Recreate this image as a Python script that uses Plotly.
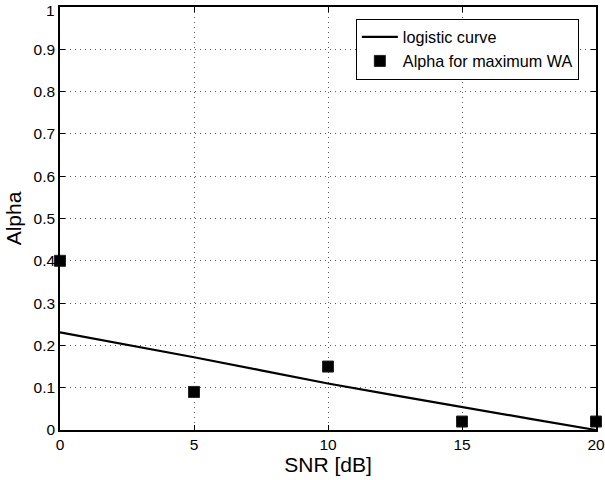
import plotly.graph_objects as go

# Data
curve_snr = [0, 2.5, 5, 7.5, 10, 12.5, 15, 17.5, 20]
curve_alpha = [0.231, 0.202, 0.172, 0.141, 0.110, 0.082, 0.054, 0.027, 0.0]

point_snr = [0, 5, 10, 15, 20]
point_alpha = [0.40, 0.09, 0.15, 0.02, 0.02]

x_ticks = [0, 5, 10, 15, 20]
y_ticks = [0, 0.1, 0.2, 0.3, 0.4, 0.5, 0.6, 0.7, 0.8, 0.9, 1]
y_tick_text = ["0", "0.1", "0.2", "0.3", "0.4", "0.5", "0.6", "0.7", "0.8", "0.9", "1"]

FONT = "Liberation Sans"
TICK_SIZE = 15.5

fig = go.Figure()
fig.add_trace(go.Scatter(
    x=curve_snr, y=curve_alpha, mode="lines", name="logistic curve",
    line=dict(color="black", width=2.2), cliponaxis=False,
))
fig.add_trace(go.Scatter(
    x=point_snr, y=point_alpha, mode="markers", name="Alpha for maximum WA",
    marker=dict(symbol="square", size=11, color="black",
                line=dict(color="#222", width=1)),
    cliponaxis=False,
))

axis_common = dict(
    showline=True, linecolor="black", linewidth=1.5, mirror="allticks",
    ticks="inside", ticklen=5, tickcolor="black", tickwidth=1,
    showgrid=True, gridcolor="#5a5a5a", gridwidth=1, griddash="1px,4px",
    zeroline=False, automargin=False, ticklabeloverflow="allow",
    tickfont=dict(family=FONT, size=TICK_SIZE, color="black"),
)

# The top y label ("1") sits right at the page edge; draw it as an annotation
# nudged slightly down (as in the reference) so that it stays fully visible.
y_tick_text_axis = [t if v != max(y_ticks) else "" for v, t in zip(y_ticks, y_tick_text)]

fig.update_xaxes(
    range=[0, 20], tickvals=x_ticks, ticktext=[str(v) for v in x_ticks],
    title=dict(text="SNR [dB]", font=dict(family=FONT, size=21, color="black"), standoff=2),
    **axis_common,
)
fig.update_yaxes(
    range=[0, 1], tickvals=y_ticks, ticktext=y_tick_text_axis,
    title=dict(text="Alpha", font=dict(family=FONT, size=21, color="black"), standoff=6),
    **axis_common,
)

fig.add_annotation(
    xref="paper", yref="y", x=0, y=max(y_ticks), text=y_tick_text[-1],
    showarrow=False, xanchor="right", yanchor="middle", xshift=-3, yshift=-3,
    font=dict(family=FONT, size=TICK_SIZE, color="black"),
)

fig.update_layout(
    width=605, height=480,
    margin=dict(l=60, r=9, t=7, b=50),
    paper_bgcolor="white", plot_bgcolor="white",
    font=dict(family=FONT, color="black"),
    legend=dict(
        x=0.968, y=0.972, xanchor="right", yanchor="top",
        bgcolor="white", bordercolor="black", borderwidth=1,
        font=dict(family=FONT, size=16.2, color="black"),
        tracegroupgap=0, itemwidth=36,
    ),
    showlegend=True,
)

fig.write_html("out.html")
